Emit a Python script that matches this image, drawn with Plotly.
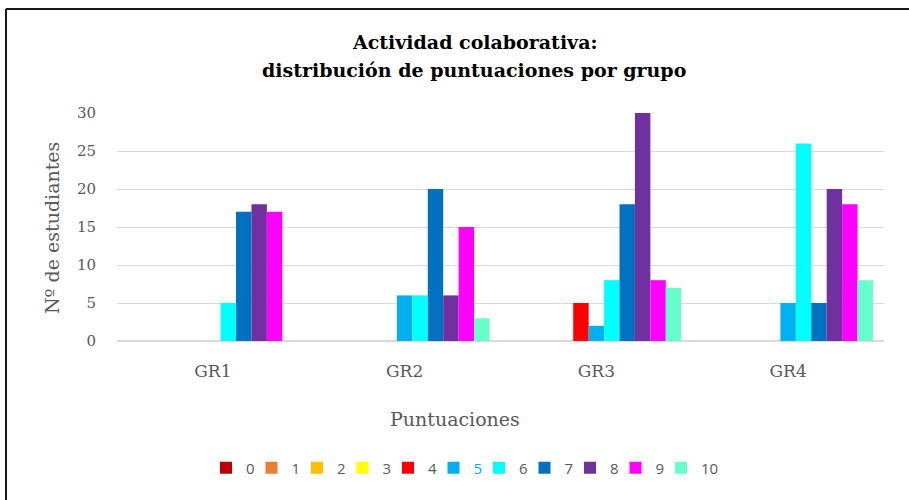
"""Actividad colaborativa: distribucion de puntuaciones por grupo."""
import plotly.graph_objects as go

# Data
grupos = ["GR1", "GR2", "GR3", "GR4"]
puntuaciones = ["0", "1", "2", "3", "4", "5", "6", "7", "8", "9", "10"]

p0 = [0, 0, 0, 0]
p1 = [0, 0, 0, 0]
p2 = [0, 0, 0, 0]
p3 = [0, 0, 0, 0]
p4 = [0, 0, 5, 0]
p5 = [0, 6, 2, 5]
p6 = [5, 6, 8, 26]
p7 = [17, 20, 18, 5]
p8 = [18, 6, 30, 20]
p9 = [17, 15, 8, 18]
p10 = [0, 3, 7, 8]

series = [p0, p1, p2, p3, p4, p5, p6, p7, p8, p9, p10]
colores = ["#C00000", "#ED7D31", "#FFC000", "#FFFF00", "#FF0000", "#00B0F0",
           "#00FFFF", "#0070C0", "#7030A0", "#FF00FF", "#66FFCC"]

SERIF = "DejaVu Serif"
SANS = "Open Sans"
GRIS = "#595959"

fig = go.Figure()
for nombre, valores, color in zip(puntuaciones, series, colores):
    etiqueta = nombre
    if nombre == "5":
        # the reference legend shows this label in blue
        etiqueta = "<span style='color:#00B0F0'>5</span>"
    fig.add_trace(go.Bar(x=grupos, y=valores, name=etiqueta,
                         marker=dict(color=color, line=dict(width=0))))

# invisible legend entry so the "10" label is not clipped
fig.add_trace(go.Scatter(x=[None], y=[None], mode="markers", name=" ",
                         marker=dict(size=1, color="rgba(0,0,0,0)", opacity=0),
                         hoverinfo="skip"))

# plot area spans x 117..884, y 113..341 in pixels
def px_x(p):
    return (p - 117) / 767

def px_y(p):
    return (341 - p) / 228

def texto(t, x, y, size, color=GRIS, angle=0):
    return dict(text=t, xref="paper", yref="paper", x=px_x(x), y=px_y(y),
                xanchor="center", yanchor="middle", showarrow=False,
                textangle=angle, font=dict(family=SERIF, size=size, color=color))

fig.update_layout(
    width=909, height=500,
    margin=dict(l=117, r=25, t=113, b=159, autoexpand=False),
    paper_bgcolor="white", plot_bgcolor="white",
    barmode="group", bargap=0.115, bargroupgap=0,
    xaxis=dict(showgrid=False, showline=False, ticks="", ticklabelstandoff=18,
               tickfont=dict(family=SERIF, size=17, color=GRIS)),
    yaxis=dict(range=[0, 30], dtick=5, showgrid=True, gridcolor="#D9D9D9",
               gridwidth=1, zeroline=True, zerolinecolor="#D9D9D9",
               showline=False, ticks="", ticklabelstandoff=20,
               tickfont=dict(family=SERIF, size=15, color=GRIS)),
    legend=dict(orientation="h", x=206 / 909, xref="container", xanchor="left",
                y=1 - 468 / 500, yref="container", yanchor="middle",
                entrywidth=0.5, entrywidthmode="pixels", itemwidth=30,
                font=dict(family=SANS, size=15, color=GRIS),
                traceorder="normal"),
    annotations=[
        texto("<b>Actividad colaborativa:</b>", 474, 42, 19, "#000000"),
        texto("<b>distribución de puntuaciones por grupo</b>", 474, 70, 19, "#000000"),
        texto("Puntuaciones", 455, 419, 19),
        texto("Nº de estudiantes", 52, 228, 19, angle=-90),
    ],
    shapes=[
        dict(type="line", xref="paper", yref="paper", x0=px_x(6), x1=px_x(920),
             y0=px_y(9), y1=px_y(9), line=dict(color="#1A1A1A", width=2)),
        dict(type="line", xref="paper", yref="paper", x0=px_x(6), x1=px_x(6),
             y0=px_y(9), y1=px_y(510), line=dict(color="#1A1A1A", width=2)),
    ],
)

# drop the default page margin so the figure sits at the window origin
fig.write_html("out.html", config={"displayModeBar": False},
               post_script="document.body.style.margin='0';")
